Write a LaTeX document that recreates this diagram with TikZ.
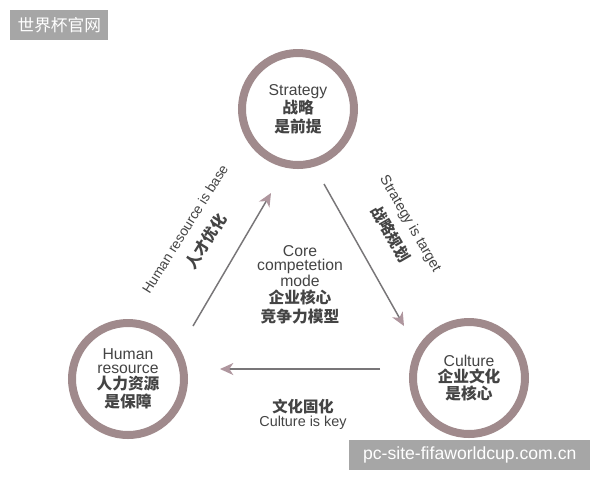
\documentclass[tikz,border=0pt]{standalone}
\usepackage{fontspec}
\setmainfont{Liberation Sans}
\newfontfamily\cjk{Noto Sans CJK SC}
\usetikzlibrary{arrows.meta}
\definecolor{ring}{RGB}{160,138,140}
\definecolor{txt}{RGB}{68,68,68}
\definecolor{lin}{RGB}{120,118,120}
\definecolor{head}{RGB}{175,150,158}
\definecolor{wm}{RGB}{166,166,166}
\tikzset{
  ringnode/.style={circle, draw=ring, line width=6pt, minimum size=84pt, inner sep=0pt,
    align=center, text=txt, font=\fontsize{11.8}{12.5}\selectfont},
  conn/.style={draw=lin, line width=1.1pt,
    -{Stealth[length=10pt,width=9pt,inset=3pt,fill=head,color=head]}},
  lbl/.style={text=txt, align=center, inner sep=0pt},
  wmbox/.style={fill=wm, text=white, inner sep=0pt, anchor=north west}
}
\begin{document}
\begin{tikzpicture}[x=0.75pt,y=-0.75pt]
\useasboundingbox (0,0) rectangle (600,480);
\fill[white] (0,0) rectangle (600,480);
% watermarks
\node[wmbox, minimum width=73.5pt, minimum height=22.5pt] (wm1) at (10,10)
  {\cjk\fontsize{12.5}{14}\selectfont 世界杯官网};
\node[wmbox, minimum width=180.75pt, minimum height=22pt] (wm2) at (349,440)
  {\fontsize{13.2}{15}\selectfont pc-site-fifaworldcup.com.cn};
% circles
\node[ringnode] (strat) at (298,109)
  {Strategy\\[0.5pt] {\cjk\bfseries 战略}\\[1.5pt] {\cjk\bfseries 是前提}};
\node[ringnode] (human) at (128,379)
  {Human\\[-2pt] resource\\[-0.5pt] {\cjk\bfseries 人力资源}\\[0.5pt] {\cjk\bfseries 是保障}};
\node[ringnode] (cult) at (469,378)
  {Culture\\[0pt] {\cjk\bfseries 企业文化}\\[0pt] {\cjk\bfseries 是核心}};
% arrow end points
\coordinate (l1) at (193,326);
\coordinate (l2) at (271,193);
\coordinate (r1) at (324,184);
\coordinate (r2) at (404,326);
\coordinate (b1) at (380,369);
\coordinate (b2) at (220,369);
\draw[conn] (l1) -- (l2);
\draw[conn] (r1) -- (r2);
\draw[conn] (b1) -- (b2);
% center text
\node[lbl, font=\fontsize{11.8}{10.5}\selectfont] (core) at (300,285)
  {Core\\ competetion\\ mode\\[2pt] {\cjk\bfseries 企业核心}\\[2pt] {\cjk\bfseries 竞争力模型}};
% bottom label
\node[lbl] (bcn) at (303,407) {\cjk\bfseries\fontsize{11.5}{13}\selectfont 文化固化};
\node[lbl] (ben) at (303,423) {\fontsize{10.8}{12}\selectfont Culture is key};
% left label
\node[lbl, rotate=58] (len) at (185,229) {\fontsize{10.3}{12}\selectfont Human resource is base};
\node[lbl, rotate=58] (lcn) at (206,241) {\cjk\bfseries\fontsize{11.5}{13}\selectfont 人才优化};
% right label
\node[lbl, rotate=-60] (ren) at (410,224) {\fontsize{10.8}{12}\selectfont Strategy is target};
\node[lbl, rotate=-60] (rcn) at (391,234) {\cjk\bfseries\fontsize{11.5}{13}\selectfont 战略规划};
\end{tikzpicture}
\end{document}
